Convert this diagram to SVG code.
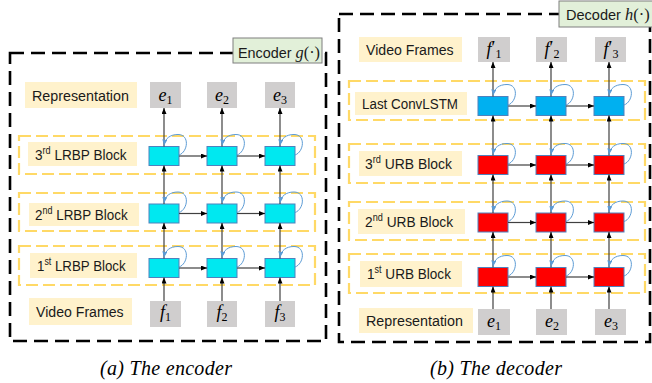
<svg xmlns="http://www.w3.org/2000/svg" xmlns:xlink="http://www.w3.org/1999/xlink" width="652" height="383" viewBox="0 0 652 383">
  <style>
    .outer { fill: none; stroke: #000; stroke-width: 2.6; stroke-dasharray: 14 7; }
    .blk { fill: none; stroke: #ffd966; stroke-width: 2.2; stroke-dasharray: 12 5; }
    .lbl { fill: #fff2cc; }
    .tag { fill: #e2f0d9; stroke: #7f7f7f; stroke-width: 1; }
    .lt { font-family: "Liberation Sans", Arial, sans-serif; font-size: 15px; fill: #1a1a1a; }
    .sup { font-size: 10px; }
    .gray { fill: #d0cece; }
    .cyan { fill: #00e8f0; stroke: #4f81bd; stroke-width: 1; }
    .red { fill: #ff0000; stroke: #4f81bd; stroke-width: 1; }
    .blue { fill: #00b0f0; stroke: #4f81bd; stroke-width: 1; }
    .math { font-family: "Liberation Serif", "Times New Roman", serif; font-size: 18px; fill: #000; text-anchor: middle; }
    .mi { font-style: italic; }
    .sub { font-size: 12px; }
    .fn { font-family: "Liberation Serif", "Times New Roman", serif; font-size: 17px; }
    .arr { fill: none; stroke: #404040; stroke-width: 1.2; marker-end: url(#ah); }
    .loop { fill: none; stroke: #5b9bd5; stroke-width: 1; marker-end: url(#lh); }
    .cap { font-family: "Liberation Serif", "Times New Roman", serif; font-style: italic; font-size: 20px; fill: #000; letter-spacing: 0.3px; }
  </style>
  <defs>
    <marker id="ah" viewBox="0 0 6 5" refX="6" refY="2.5" markerWidth="6" markerHeight="5" markerUnits="userSpaceOnUse" orient="auto">
      <path d="M0,0 L6,2.5 L0,5 z" fill="#000"/>
    </marker>
    <marker id="lh" viewBox="0 0 6 5" refX="6" refY="2.5" markerWidth="6" markerHeight="5" markerUnits="userSpaceOnUse" orient="auto">
      <path d="M0,0 L6,2.5 L0,5 z" fill="#5b9bd5"/>
    </marker>
    <!-- recurrent self-loop, origin at the top centre of a cell -->
    <path id="loop" class="loop" d="M15,8.5 C24,5.5 26,-12 14,-12 C6,-12 1,-8 0,-1"/>
  </defs>

  <rect width="652" height="383" fill="#fff"/>

  <!-- ===================== Encoder ===================== -->
  <g id="encoder-frame">
    <rect class="outer" x="10" y="53" width="316" height="288"/>
    <rect class="tag" x="233" y="38" width="89" height="25"/>
    <text class="lt" transform="translate(238,57.5) scale(0.96,1)">Encoder <tspan class="fn mi">g</tspan><tspan class="fn">(·)</tspan></text>
  </g>

  <g id="enc-block3">
    <rect class="blk" x="19" y="136" width="296" height="38"/>
    <rect class="lbl" x="28" y="142" width="109" height="24"/>
    <text class="lt" transform="translate(35,159.5) scale(0.907,1)">3<tspan class="sup" dy="-6">rd</tspan><tspan dy="6"> LRBP Block</tspan></text>
  </g>
  <g id="enc-block2">
    <rect class="blk" x="19" y="193" width="296" height="38"/>
    <rect class="lbl" x="29" y="203" width="110" height="23"/>
    <text class="lt" transform="translate(35,219.5) scale(0.897,1)">2<tspan class="sup" dy="-6">nd</tspan><tspan dy="6"> LRBP Block</tspan></text>
  </g>
  <g id="enc-block1">
    <rect class="blk" x="19" y="246" width="296" height="39"/>
    <rect class="lbl" x="30" y="253" width="107" height="25"/>
    <text class="lt" transform="translate(37,270.5) scale(0.887,1)">1<tspan class="sup" dy="-6">st</tspan><tspan dy="6"> LRBP Block</tspan></text>
  </g>

  <g id="enc-repr-label">
    <rect class="lbl" x="25" y="82" width="112" height="26"/>
    <text class="lt" transform="translate(32,100.5) scale(0.954,1)">Representation</text>
  </g>
  <g id="enc-frames-label">
    <rect class="lbl" x="29" y="298" width="103" height="27"/>
    <text class="lt" transform="translate(36,316.5) scale(0.942,1)">Video Frames</text>
  </g>

  <g id="enc-e1"><rect class="gray" x="150" y="82" width="31" height="26"/><text class="math" x="165.5" y="101"><tspan class="mi">e</tspan><tspan class="sub" dy="3">1</tspan></text></g>
  <g id="enc-e2"><rect class="gray" x="207" y="82" width="30" height="26"/><text class="math" x="222" y="101"><tspan class="mi">e</tspan><tspan class="sub" dy="3">2</tspan></text></g>
  <g id="enc-e3"><rect class="gray" x="265" y="82" width="30" height="26"/><text class="math" x="280" y="101"><tspan class="mi">e</tspan><tspan class="sub" dy="3">3</tspan></text></g>

  <g id="enc-f1"><rect class="gray" x="150" y="301" width="31" height="26"/><text class="math" x="165.5" y="318"><tspan class="mi">f</tspan><tspan class="sub" dy="3">1</tspan></text></g>
  <g id="enc-f2"><rect class="gray" x="207" y="301" width="30" height="26"/><text class="math" x="222" y="318"><tspan class="mi">f</tspan><tspan class="sub" dy="3">2</tspan></text></g>
  <g id="enc-f3"><rect class="gray" x="265" y="301" width="30" height="26"/><text class="math" x="280" y="318"><tspan class="mi">f</tspan><tspan class="sub" dy="3">3</tspan></text></g>

  <g id="enc-cells">
    <rect id="enc-c31" class="cyan" x="149" y="146.5" width="30" height="19"/>
    <rect id="enc-c32" class="cyan" x="207" y="146.5" width="30" height="19"/>
    <rect id="enc-c33" class="cyan" x="265" y="146.5" width="30" height="19"/>
    <rect id="enc-c21" class="cyan" x="149" y="204" width="30" height="19"/>
    <rect id="enc-c22" class="cyan" x="207" y="204" width="30" height="19"/>
    <rect id="enc-c23" class="cyan" x="265" y="204" width="30" height="19"/>
    <rect id="enc-c11" class="cyan" x="149" y="258.5" width="30" height="19"/>
    <rect id="enc-c12" class="cyan" x="207" y="258.5" width="30" height="19"/>
    <rect id="enc-c13" class="cyan" x="265" y="258.5" width="30" height="19"/>
  </g>

  <!-- ===================== Decoder ===================== -->
  <g id="decoder-frame">
    <rect class="outer" x="339" y="14" width="311" height="328"/>
    <rect class="tag" x="559" y="1" width="100" height="26"/>
    <text class="lt" transform="translate(566,19.5) scale(0.97,1)">Decoder <tspan class="fn mi">h</tspan><tspan class="fn">(·)</tspan></text>
  </g>

  <g id="dec-last">
    <rect class="blk" x="349" y="81" width="296" height="39"/>
    <rect class="lbl" x="355" y="92" width="112" height="23"/>
    <text class="lt" transform="translate(362,108.5) scale(0.893,1)">Last ConvLSTM</text>
  </g>
  <g id="dec-block3">
    <rect class="blk" x="349" y="144" width="296" height="39"/>
    <rect class="lbl" x="359" y="151" width="103" height="25"/>
    <text class="lt" transform="translate(365,168.5) scale(0.926,1)">3<tspan class="sup" dy="-6">rd</tspan><tspan dy="6"> URB Block</tspan></text>
  </g>
  <g id="dec-block2">
    <rect class="blk" x="349" y="202" width="296" height="38"/>
    <rect class="lbl" x="358" y="209" width="107" height="25"/>
    <text class="lt" transform="translate(365,226.5) scale(0.916,1)">2<tspan class="sup" dy="-6">nd</tspan><tspan dy="6"> URB Block</tspan></text>
  </g>
  <g id="dec-block1">
    <rect class="blk" x="349" y="254" width="296" height="39"/>
    <rect class="lbl" x="360" y="261" width="102" height="26"/>
    <text class="lt" transform="translate(367,279) scale(0.905,1)">1<tspan class="sup" dy="-6">st</tspan><tspan dy="6"> URB Block</tspan></text>
  </g>

  <g id="dec-frames-label">
    <rect class="lbl" x="359" y="37" width="103" height="25"/>
    <text class="lt" transform="translate(366,54.5) scale(0.942,1)">Video Frames</text>
  </g>
  <g id="dec-repr-label">
    <rect class="lbl" x="359" y="308" width="114" height="25"/>
    <text class="lt" transform="translate(366,325.5) scale(0.954,1)">Representation</text>
  </g>

  <g id="dec-f1"><rect class="gray" x="478" y="37" width="32" height="25"/><text class="math" x="494" y="55"><tspan class="mi">f</tspan><tspan dy="-1">′</tspan><tspan class="sub" dy="4">1</tspan></text></g>
  <g id="dec-f2"><rect class="gray" x="536" y="37" width="31" height="25"/><text class="math" x="552" y="55"><tspan class="mi">f</tspan><tspan dy="-1">′</tspan><tspan class="sub" dy="4">2</tspan></text></g>
  <g id="dec-f3"><rect class="gray" x="595" y="37" width="31" height="25"/><text class="math" x="611" y="55"><tspan class="mi">f</tspan><tspan dy="-1">′</tspan><tspan class="sub" dy="4">3</tspan></text></g>

  <g id="dec-e1"><rect class="gray" x="478" y="309" width="32" height="26"/><text class="math" x="494" y="327"><tspan class="mi">e</tspan><tspan class="sub" dy="3">1</tspan></text></g>
  <g id="dec-e2"><rect class="gray" x="536" y="309" width="31" height="26"/><text class="math" x="552" y="327"><tspan class="mi">e</tspan><tspan class="sub" dy="3">2</tspan></text></g>
  <g id="dec-e3"><rect class="gray" x="595" y="309" width="31" height="26"/><text class="math" x="611" y="327"><tspan class="mi">e</tspan><tspan class="sub" dy="3">3</tspan></text></g>

  <g id="dec-cells">
    <rect id="dec-c41" class="blue" x="478" y="96.5" width="30" height="19"/>
    <rect id="dec-c42" class="blue" x="536" y="96.5" width="30" height="19"/>
    <rect id="dec-c43" class="blue" x="594" y="96.5" width="30" height="19"/>
    <rect id="dec-c31" class="red" x="478" y="155.5" width="30" height="19"/>
    <rect id="dec-c32" class="red" x="536" y="155.5" width="30" height="19"/>
    <rect id="dec-c33" class="red" x="594" y="155.5" width="30" height="19"/>
    <rect id="dec-c21" class="red" x="478" y="213" width="30" height="19"/>
    <rect id="dec-c22" class="red" x="536" y="213" width="30" height="19"/>
    <rect id="dec-c23" class="red" x="594" y="213" width="30" height="19"/>
    <rect id="dec-c11" class="red" x="478" y="267.5" width="30" height="19"/>
    <rect id="dec-c12" class="red" x="536" y="267.5" width="30" height="19"/>
    <rect id="dec-c13" class="red" x="594" y="267.5" width="30" height="19"/>
  </g>

  <!-- ===================== Connectors ===================== -->
  <g id="connectors">
    <!-- encoder: upward flow -->
    <path class="arr" d="M164,301 V277.5"/><path class="arr" d="M222,301 V277.5"/><path class="arr" d="M280,301 V277.5"/>
    <path class="arr" d="M164,258.5 V223"/><path class="arr" d="M222,258.5 V223"/><path class="arr" d="M280,258.5 V223"/>
    <path class="arr" d="M164,204 V165.5"/><path class="arr" d="M222,204 V165.5"/><path class="arr" d="M280,204 V165.5"/>
    <path class="arr" d="M164,146.5 V108"/><path class="arr" d="M222,146.5 V108"/><path class="arr" d="M280,146.5 V108"/>
    <!-- encoder: temporal flow -->
    <path class="arr" d="M179,156 H207"/><path class="arr" d="M237,156 H265"/>
    <path class="arr" d="M179,213.5 H207"/><path class="arr" d="M237,213.5 H265"/>
    <path class="arr" d="M179,268 H207"/><path class="arr" d="M237,268 H265"/>
    <!-- encoder: self loops -->
    <use xlink:href="#loop" x="164" y="146.5"/><use xlink:href="#loop" x="222" y="146.5"/><use xlink:href="#loop" x="280" y="146.5"/>
    <use xlink:href="#loop" x="164" y="204"/><use xlink:href="#loop" x="222" y="204"/><use xlink:href="#loop" x="280" y="204"/>
    <use xlink:href="#loop" x="164" y="258.5"/><use xlink:href="#loop" x="222" y="258.5"/><use xlink:href="#loop" x="280" y="258.5"/>

    <!-- decoder: upward flow -->
    <path class="arr" d="M493,309 V286.5"/><path class="arr" d="M551,309 V286.5"/><path class="arr" d="M609,309 V286.5"/>
    <path class="arr" d="M493,267.5 V232"/><path class="arr" d="M551,267.5 V232"/><path class="arr" d="M609,267.5 V232"/>
    <path class="arr" d="M493,213 V174.5"/><path class="arr" d="M551,213 V174.5"/><path class="arr" d="M609,213 V174.5"/>
    <path class="arr" d="M493,155.5 V115.5"/><path class="arr" d="M551,155.5 V115.5"/><path class="arr" d="M609,155.5 V115.5"/>
    <path class="arr" d="M493,96.5 V62"/><path class="arr" d="M551,96.5 V62"/><path class="arr" d="M609,96.5 V62"/>
    <!-- decoder: temporal flow -->
    <path class="arr" d="M508,106 H536"/><path class="arr" d="M566,106 H594"/>
    <path class="arr" d="M508,165 H536"/><path class="arr" d="M566,165 H594"/>
    <path class="arr" d="M508,222.5 H536"/><path class="arr" d="M566,222.5 H594"/>
    <path class="arr" d="M508,277 H536"/><path class="arr" d="M566,277 H594"/>
    <!-- decoder: self loops -->
    <use xlink:href="#loop" x="493" y="96.5"/><use xlink:href="#loop" x="551" y="96.5"/><use xlink:href="#loop" x="609" y="96.5"/>
    <use xlink:href="#loop" x="493" y="155.5"/><use xlink:href="#loop" x="551" y="155.5"/><use xlink:href="#loop" x="609" y="155.5"/>
    <use xlink:href="#loop" x="493" y="213"/><use xlink:href="#loop" x="551" y="213"/><use xlink:href="#loop" x="609" y="213"/>
    <use xlink:href="#loop" x="493" y="267.5"/><use xlink:href="#loop" x="551" y="267.5"/><use xlink:href="#loop" x="609" y="267.5"/>
  </g>

  <!-- captions -->
  <text class="cap" x="100" y="375">(a) The encoder</text>
  <text class="cap" x="430" y="375">(b) The decoder</text>
</svg>
